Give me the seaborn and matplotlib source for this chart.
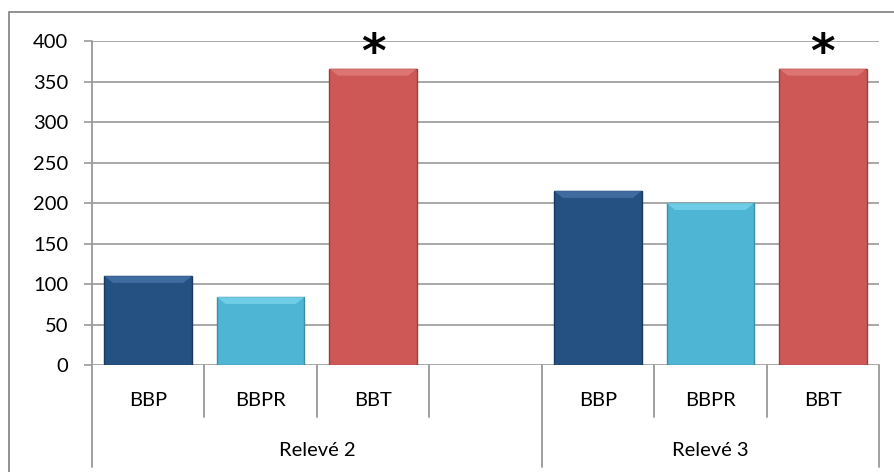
import matplotlib
matplotlib.use("Agg")
import matplotlib.pyplot as plt
import matplotlib.patches as mpatches
import matplotlib.transforms as mtransforms
import seaborn as sns
import pandas as pd

# ---- data ----
groups = ["Relevé 2", "Relevé 3"]
series = ["BBP", "BBPR", "BBT"]
rel2_values = [110, 84, 366]
rel3_values = [215, 200, 366]
significant = ["BBT"]          # marked with an asterisk
y_ticks = [0, 50, 100, 150, 200, 250, 300, 350, 400]

colors = {"BBP": "#255082", "BBPR": "#4FB5D4", "BBT": "#CD5855"}
edge_colors = {"BBP": "#183A62", "BBPR": "#3A8EA8", "BBT": "#9E3F3D"}
top_colors = {"BBP": "#4A78AE", "BBPR": "#7FD8F0", "BBT": "#E58480"}

# slots: 3 bars, one empty slot, 3 bars
slots = ["R2_BBP", "R2_BBPR", "R2_BBT", "gap", "R3_BBP", "R3_BBPR", "R3_BBT"]
rows = []
for s, v in zip(series, rel2_values):
    rows.append({"slot": "R2_" + s, "series": s, "group": groups[0], "value": v})
for s, v in zip(series, rel3_values):
    rows.append({"slot": "R3_" + s, "series": s, "group": groups[1], "value": v})
df = pd.DataFrame(rows)

sns.set_theme(style="white")
plt.rcParams["font.family"] = ["Lato", "DejaVu Sans"]

W, H = 894, 472
fig = plt.figure(figsize=(W / 100, H / 100), dpi=100)
ax_left, ax_right, ax_top, ax_bottom = 92, 879, 41, 365
ax = fig.add_axes([ax_left / W, (H - ax_bottom) / H,
                   (ax_right - ax_left) / W, (ax_bottom - ax_top) / H])

sns.barplot(data=df, x="slot", y="value", hue="series", order=slots,
            hue_order=series, palette=colors, dodge=False, width=0.78,
            saturation=1, legend=False, ax=ax, zorder=3)

ax.set_ylim(0, 400)
ax.set_xlim(-0.5, len(slots) - 0.5)

# bar edges and a light top bevel derived from each bar's geometry
px_per_unit_y = (ax_bottom - ax_top) / 400.0
for bar in list(ax.patches):
    fc = bar.get_facecolor()
    for s in series:
        c = matplotlib.colors.to_rgba(colors[s])
        if all(abs(a - b) < 1e-3 for a, b in zip(c, fc)):
            bar.set_edgecolor(edge_colors[s])
            x0, w, h = bar.get_x(), bar.get_width(), bar.get_height()
            bev = 7 / px_per_unit_y
            inset = w * 0.1
            poly = mpatches.Polygon([[x0, h], [x0 + w, h], [x0 + w - inset, h - bev],
                                     [x0 + inset, h - bev]], closed=True,
                                    facecolor=top_colors[s], edgecolor="none",
                                    alpha=0.7, zorder=4)
            ax.add_patch(poly)
    bar.set_linewidth(1.0)

ax.set_yticks(y_ticks)
ax.set_yticklabels([str(t) for t in y_ticks], fontsize=14.5, color="#000000")
ax.set_xticks([])
ax.set_xlabel("")
ax.set_ylabel("")
ax.tick_params(axis="y", direction="out", length=6, width=1.2, color="#999999", pad=11, left=True)
ax.yaxis.grid(True, color="#A0A0A0", linewidth=1.3, zorder=0)
ax.set_axisbelow(True)
for sp in ax.spines.values():
    sp.set_visible(False)

# asterisks above significant bars
for gi in range(2):
    for si, s in enumerate(series):
        if s in significant:
            xpos = slots.index(("R2_" if gi == 0 else "R3_") + s)
            ax.text(xpos, 383, "*", ha="center", va="center", fontsize=34,
                    fontweight="bold", color="black", family="DejaVu Sans", zorder=5)

# category axis drawn below the plot
trans = mtransforms.blended_transform_factory(ax.transData, ax.transAxes)
axh = ax_bottom - ax_top
def ay(py):
    return (ax_bottom - py) / axh

line_kw = dict(color="#999999", linewidth=1.3, clip_on=False, transform=trans)
ax.plot([-0.5, -0.5], [ay(ax_top), ay(467)], **line_kw)
ax.plot([len(slots) - 0.5] * 2, [ay(ax_bottom), ay(467)], **line_kw)
ax.plot([3.5, 3.5], [ay(ax_bottom), ay(467)], **line_kw)
for xb in [0.5, 1.5, 2.5, 4.5, 5.5]:
    ax.plot([xb, xb], [ay(ax_bottom), ay(417)], **line_kw)

for i, sl in enumerate(slots):
    if sl == "gap":
        continue
    lab = sl.split("_")[1]
    ax.text(i, ay(401), lab, ha="center", va="center", fontsize=14.5,
            transform=trans, color="black")
ax.text(1.5, ay(451), groups[0], ha="center", va="center", fontsize=14.5,
        transform=trans, color="black")
ax.text(5.0, ay(451), groups[1], ha="center", va="center", fontsize=14.5,
        transform=trans, color="black")

# outer chart border
fig.patches.append(mpatches.Rectangle((9 / W, -0.05), 1.0, (H - 12) / H + 0.05,
                                      transform=fig.transFigure, fill=False,
                                      edgecolor="#888888", linewidth=1.3))

fig.savefig("out.png", dpi=100)
